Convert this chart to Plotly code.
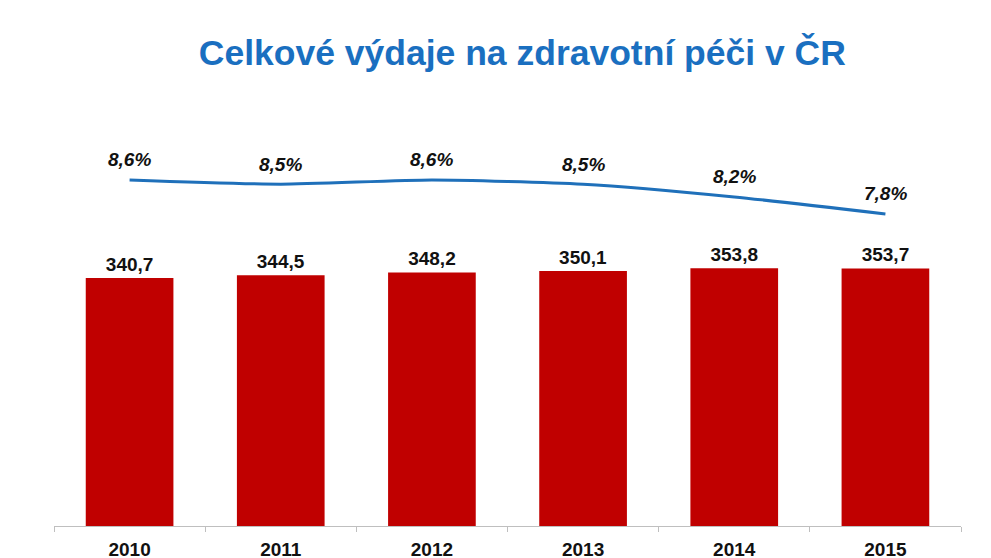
import plotly.graph_objects as go

# data
years = ["2010", "2011", "2012", "2013", "2014", "2015"]
spending = [340.7, 344.5, 348.2, 350.1, 353.8, 353.7]   # bars
share_gdp = [8.6, 8.5, 8.6, 8.5, 8.2, 7.8]              # line, % of GDP

bar_labels = [f"{v:.1f}".replace(".", ",") for v in spending]
line_labels = [f"{v:.1f}%".replace(".", ",") for v in share_gdp]

font_family = "Liberation Sans, Arial, sans-serif"

fig = go.Figure()

fig.add_trace(go.Bar(
    x=years, y=spending,
    marker=dict(color="#C00000", line=dict(width=0)),
    text=bar_labels,
    textposition="outside",
    textfont=dict(family=font_family, size=19, color="#111111", weight="bold"),
    cliponaxis=False,
    width=0.58,
))

fig.add_trace(go.Scatter(
    x=years, y=share_gdp,
    yaxis="y2",
    mode="lines",
    line=dict(color="#1F70BA", width=3, shape="spline", smoothing=0.6),
))

# percentage labels above the line (x given as category index)
for i, (v, lbl) in enumerate(zip(share_gdp, line_labels)):
    fig.add_annotation(
        x=i, y=v, xref="x", yref="y2",
        text=f"<b><i>{lbl}</i></b>",
        showarrow=False, yshift=20,
        font=dict(family=font_family, size=19, color="#111111"),
    )

# the page body adds an 8px offset, margins compensate for it
fig.update_layout(
    width=991, height=558,
    margin=dict(l=46, r=38, t=92, b=40),
    paper_bgcolor="white",
    plot_bgcolor="white",
    showlegend=False,
    title=dict(
        text="<b>Celkové výdaje na zdravotní péči v ČR</b>",
        x=0.519, xanchor="center",
        y=0.921, yanchor="middle",
        font=dict(family=font_family, size=35.5, color="#1A6FC0"),
    ),
    xaxis=dict(
        type="category", range=[-0.5, len(years) - 0.5],
        showline=True, linecolor="#BFBFBF", linewidth=1,
        ticks="outside", ticklen=5, tickcolor="#BFBFBF",
        tickson="boundaries", tickangle=0, ticklabelstandoff=6,
        tickfont=dict(family=font_family, size=19, color="#111111", weight="bold"),
        showgrid=False, automargin=False,
    ),
    yaxis=dict(
        range=[0, 585], visible=False, showgrid=False, zeroline=False,
    ),
    yaxis2=dict(
        range=[0.46, 10.48], overlaying="y", visible=False,
        showgrid=False, zeroline=False,
    ),
)

fig.write_html("out.html")
